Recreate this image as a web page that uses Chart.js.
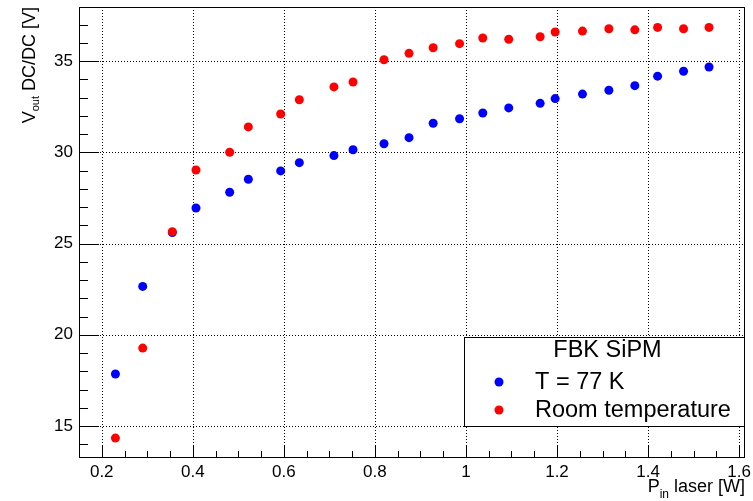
<!DOCTYPE html>
<html>
<head>
<meta charset="utf-8">
<script src="https://cdn.jsdelivr.net/npm/chart.js@4/dist/chart.umd.min.js"></script>
<style>
  html, body { margin: 0; padding: 0; background: #fff; }
</style>
</head>
<body>
<canvas id="chart" width="753" height="501"></canvas>
<script>
// laser input power [W], shared by both series
const pinLaser = [0.23, 0.29, 0.355, 0.407, 0.481, 0.522, 0.593, 0.634, 0.710, 0.752, 0.820, 0.875,
  0.928, 0.986, 1.037, 1.094, 1.163, 1.196, 1.256, 1.314, 1.371, 1.421, 1.478, 1.534];
// DC/DC output voltage [V]
const vout77K = [17.85, 22.65, 25.6, 26.95, 27.81, 28.52, 28.98, 29.43, 29.82, 30.14, 30.47, 30.80,
  31.59, 31.84, 32.15, 32.43, 32.68, 32.94, 33.19, 33.40, 33.65, 34.17, 34.44, 34.67];
const voutRoom = [14.34, 19.27, 25.65, 29.03, 30.0, 31.39, 32.1, 32.88, 33.58, 33.85, 35.07, 35.42,
  35.73, 35.95, 36.26, 36.19, 36.33, 36.59, 36.64, 36.77, 36.71, 36.84, 36.77, 36.84];

const seriesLabels = ["T = 77 K", "Room temperature"];
const legendTitle = "FBK SiPM";
const xRange = [0.15, 1.613];
const yRange = [13.25, 37.96];

const FONT = "'Liberation Sans', Arial, Helvetica, sans-serif";

function toPoints(ys) {
  return pinLaser.map((x, i) => ({ x: x, y: ys[i] }));
}

function line(ctx, x1, y1, x2, y2) {
  ctx.beginPath();
  ctx.moveTo(x1, y1);
  ctx.lineTo(x2, y2);
  ctx.stroke();
}

// ROOT-like frame: dotted grid, inner ticks, box
const rootFrame = {
  id: "rootFrame",
  beforeDatasetsDraw(chart) {
    const { ctx, chartArea: a, scales: { x, y } } = chart;
    ctx.save();
    ctx.strokeStyle = "#000";
    ctx.lineWidth = 1;

    ctx.setLineDash([1, 2]);
    x.ticks.forEach((t) => {
      const px = Math.round(x.getPixelForValue(t.value)) + 0.5;
      line(ctx, px, a.top, px, a.bottom);
    });
    y.ticks.forEach((t) => {
      const py = Math.round(y.getPixelForValue(t.value)) + 0.5;
      line(ctx, a.left, py, a.right, py);
    });
    ctx.setLineDash([]);

    // x ticks every 0.05, major every 0.2
    for (let k = 4; k <= 32; k++) {
      const px = Math.round(x.getPixelForValue(k * 0.05)) + 0.5;
      const len = k % 4 === 0 ? 13 : 7;
      line(ctx, px, a.bottom, px, a.bottom - len);
    }
    // y ticks every 1, major every 5
    for (let k = 14; k <= 37; k++) {
      const py = Math.round(y.getPixelForValue(k)) + 0.5;
      const len = k % 5 === 0 ? 20 : 9;
      line(ctx, a.left, py, a.left + len, py);
    }

    ctx.strokeRect(a.left + 0.5, a.top + 0.5, a.width - 1, a.height - 1);
    ctx.restore();
  },
  afterDraw(chart) {
    const { ctx, chartArea: a } = chart;
    ctx.save();
    ctx.fillStyle = "#000";
    ctx.textBaseline = "alphabetic";

    // y title: V_out DC/DC [V], rotated, ending at top of frame
    ctx.font = "18px " + FONT;
    const wV = ctx.measureText("V").width;
    const wRest = ctx.measureText(" DC/DC [V]").width;
    ctx.font = "11px " + FONT;
    const wSub = ctx.measureText("out").width;
    const total = wV + wSub + wRest;
    ctx.translate(35, a.top + total);
    ctx.rotate(-Math.PI / 2);
    ctx.font = "18px " + FONT;
    ctx.fillText("V", 0, 0);
    ctx.font = "11px " + FONT;
    ctx.fillText("out", wV, 4);
    ctx.font = "18px " + FONT;
    ctx.fillText(" DC/DC [V]", wV + wSub, 0);
    ctx.setTransform(1, 0, 0, 1, 0, 0);

    // x title: P_in laser [W], right aligned to frame
    ctx.font = "18px " + FONT;
    const wP = ctx.measureText("P").width;
    const wTail = ctx.measureText(" laser [W]").width;
    ctx.font = "12px " + FONT;
    const wIn = ctx.measureText("in").width;
    let xs = a.right - (wP + wIn + wTail);
    ctx.font = "18px " + FONT;
    ctx.fillText("P", xs, 492);
    ctx.font = "12px " + FONT;
    ctx.fillText("in", xs + wP, 498);
    ctx.font = "18px " + FONT;
    ctx.fillText(" laser [W]", xs + wP + wIn, 492);

    // legend box
    const bx = 464, by = 337, bw = a.right - 464, bh = 90;
    ctx.fillStyle = "#fff";
    ctx.fillRect(bx, by, bw, bh);
    ctx.strokeStyle = "#000";
    ctx.lineWidth = 1;
    ctx.strokeRect(bx + 0.5, by + 0.5, bw - 1, bh - 1);
    ctx.fillStyle = "#000";
    ctx.font = "23.5px " + FONT;
    ctx.textAlign = "center";
    ctx.fillText(legendTitle, bx + bw / 2 + 3, 357);
    ctx.textAlign = "left";
    const rows = [382, 410];
    chart.data.datasets
      .slice()
      .sort((p, q) => seriesLabels.indexOf(p.label) - seriesLabels.indexOf(q.label))
      .forEach((ds, i) => {
        ctx.fillStyle = ds.backgroundColor;
        ctx.beginPath();
        ctx.arc(499, rows[i], 4.5, 0, Math.PI * 2);
        ctx.fill();
        ctx.fillStyle = "#000";
        ctx.fillText(ds.label, 535, rows[i] + 7);
      });
    ctx.restore();
  }
};

new Chart(document.getElementById("chart"), {
  type: "scatter",
  data: {
    datasets: [
      {
        label: seriesLabels[1],
        data: toPoints(voutRoom),
        backgroundColor: "#ff0000",
        borderWidth: 0,
        pointRadius: 4.5,
        pointHoverRadius: 4.5,
        order: 0
      },
      {
        label: seriesLabels[0],
        data: toPoints(vout77K),
        backgroundColor: "#0000ff",
        borderWidth: 0,
        pointRadius: 4.5,
        pointHoverRadius: 4.5,
        order: 1
      }
    ]
  },
  options: {
    responsive: false,
    animation: false,
    layout: { padding: { left: 0, top: 7, right: 8, bottom: 0 } },
    plugins: { legend: { display: false }, tooltip: { enabled: false } },
    scales: {
      x: {
        type: "linear",
        min: xRange[0],
        max: xRange[1],
        grid: { display: false, drawTicks: false },
        border: { display: false },
        ticks: {
          stepSize: 0.2,
          includeBounds: false,
          autoSkip: false,
          maxRotation: 0,
          padding: 4,
          color: "#000",
          font: { family: FONT, size: 17 },
          callback: (v) => String(+Number(v).toFixed(2))
        },
        afterFit: (s) => { s.height = 43; s.paddingLeft = 0; s.paddingRight = 0; }
      },
      y: {
        type: "linear",
        min: yRange[0],
        max: yRange[1],
        grid: { display: false, drawTicks: false },
        border: { display: false },
        ticks: {
          stepSize: 5,
          includeBounds: false,
          padding: 6,
          color: "#000",
          font: { family: FONT, size: 17 },
          callback: (v) => String(v)
        },
        afterFit: (s) => { s.width = 79; s.paddingTop = 0; s.paddingBottom = 0; }
      }
    }
  },
  plugins: [rootFrame]
});
</script>
</body>
</html>
